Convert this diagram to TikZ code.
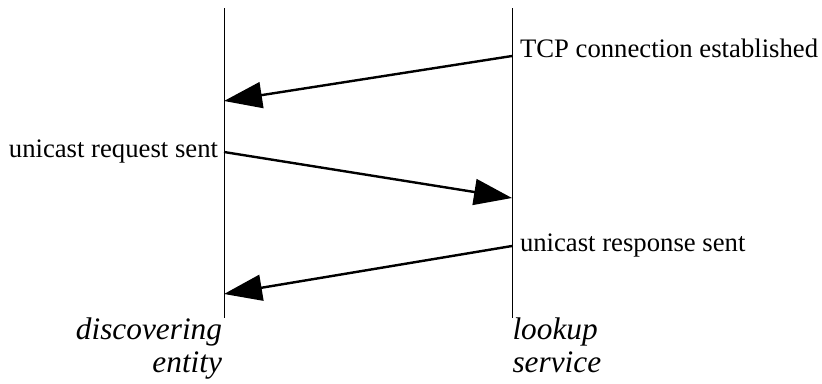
\documentclass[tikz,border=0pt]{standalone}
\usepackage{fontspec}
\setmainfont{Liberation Serif}
\usetikzlibrary{arrows.meta}
\begin{document}
\begin{tikzpicture}[x=1pt,y=-1pt,
  lifeline/.style={line width=0.9pt},
  msg/.style={line width=2.4pt, -{Triangle[length=38pt,width=26pt]}},
  evtlabel/.style={inner sep=0pt, outer sep=0pt, font=\fontsize{26.7}{30}\selectfont},
  rolelabel/.style={inner sep=0pt, outer sep=0pt, font=\fontsize{31.3}{34}\selectfont\itshape}]
\useasboundingbox (0,0) rectangle (822,383);

% the two lifelines
\coordinate (dTop) at (224,8);
\coordinate (dBot) at (224,318);
\coordinate (lTop) at (512,8);
\coordinate (lBot) at (512,318);
\draw[lifeline] (dTop) -- (dBot);
\draw[lifeline] (lTop) -- (lBot);

% message end points
\coordinate (l1) at (512,56);
\coordinate (d1) at (224,101);
\coordinate (d2) at (224,152);
\coordinate (l2) at (512,198);
\coordinate (l3) at (512,246);
\coordinate (d3) at (224,294);

\draw[msg] (l1) -- (d1);
\draw[msg] (d2) -- (l2);
\draw[msg] (l3) -- (d3);

% event labels
\node[evtlabel, anchor=base west] (tcp) at (520,57) {TCP connection established};
\node[evtlabel, anchor=base east] (req) at (218,157) {unicast request sent};
\node[evtlabel, anchor=base west] (resp) at (520,251.5) {unicast response sent};

% role labels under the lifelines
\node[rolelabel, anchor=base east] (disc1) at (222,339) {discovering};
\node[rolelabel, anchor=base east] (disc2) at (222,372.5) {entity};
\node[rolelabel, anchor=base west] (look1) at (512.5,339.5) {lookup};
\node[rolelabel, anchor=base west] (look2) at (512.5,372.5) {service};
\end{tikzpicture}
\end{document}
